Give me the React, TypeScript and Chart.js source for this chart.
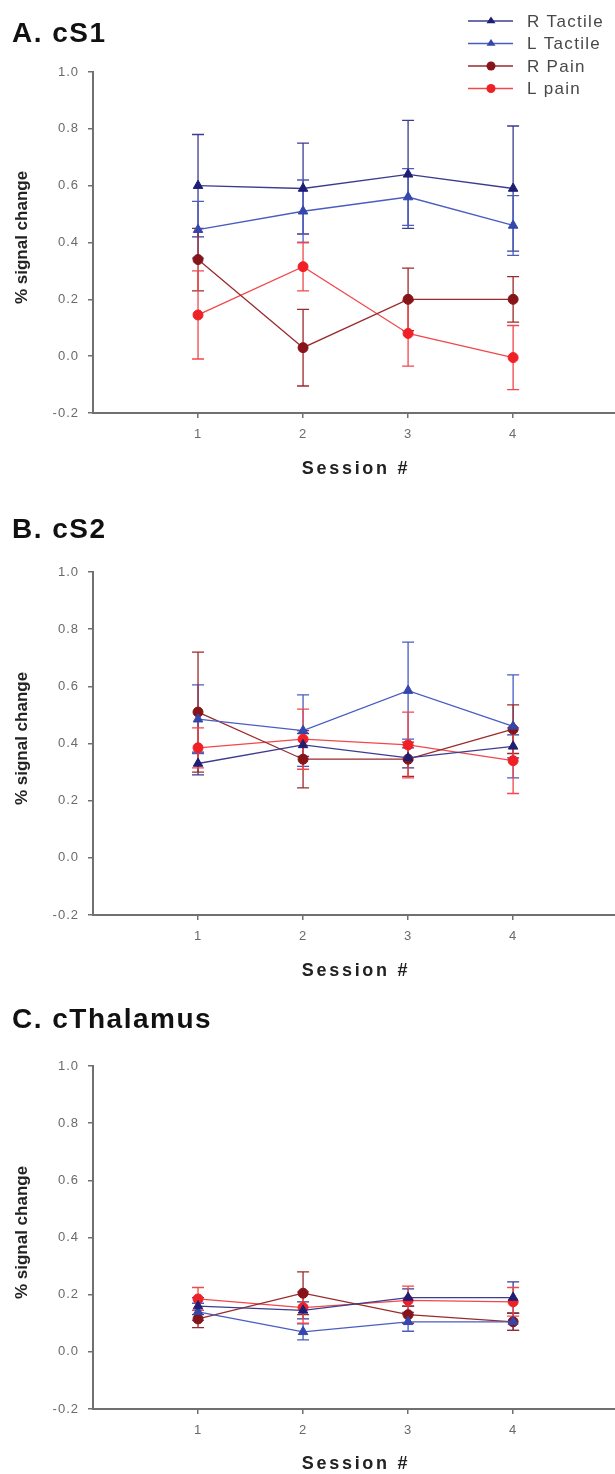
import React, { useEffect, useRef } from "react";
import { Chart, registerables } from "chart.js";

Chart.register(...registerables);

// ---------- data ----------
const sessions = [1, 2, 3, 4];
const xTickValues = [1, 2, 3, 4];
const yMin = -0.2;
const yMax = 1.0;
const yStep = 0.2;

const seriesLabels = ["R Tactile", "L Tactile", "R Pain", "L pain"];
const seriesMarkers = ["triangle", "triangle", "circle", "circle"];
const panelTitles = ["A. cS1", "B. cS2", "C. cThalamus"];
const xAxisTitle = "Session #";
const yAxisTitle = "% signal change";

// A. cS1
const cS1RTactile = [0.6, 0.59, 0.64, 0.59];
const cS1RTactileErr = [0.18, 0.16, 0.19, 0.22];
const cS1LTactile = [0.445, 0.51, 0.56, 0.46];
const cS1LTactileErr = [0.1, 0.11, 0.1, 0.105];
const cS1RPain = [0.34, 0.03, 0.2, 0.2];
const cS1RPainErr = [0.11, 0.135, 0.11, 0.08];
const cS1LPain = [0.145, 0.315, 0.08, -0.005];
const cS1LPainErr = [0.155, 0.085, 0.115, 0.113];

// B. cS2
const cS2RTactile = [0.33, 0.395, 0.35, 0.39];
const cS2RTactileErr = [0.04, 0.04, 0.035, 0.04];
const cS2LTactile = [0.485, 0.445, 0.585, 0.46];
const cS2LTactileErr = [0.12, 0.125, 0.17, 0.18];
const cS2RPain = [0.51, 0.345, 0.345, 0.45];
const cS2RPainErr = [0.21, 0.1, 0.06, 0.085];
const cS2LPain = [0.385, 0.415, 0.395, 0.34];
const cS2LPainErr = [0.07, 0.105, 0.115, 0.115];

// C. cThalamus
const cThRTactile = [0.16, 0.145, 0.19, 0.19];
const cThRTactileErr = [0.03, 0.03, 0.03, 0.055];
const cThLTactile = [0.14, 0.07, 0.105, 0.105];
const cThLTactileErr = [0.03, 0.028, 0.033, 0.03];
const cThRPain = [0.115, 0.205, 0.13, 0.105];
const cThRPainErr = [0.03, 0.075, 0.03, 0.03];
const cThLPain = [0.185, 0.155, 0.18, 0.175];
const cThLPainErr = [0.04, 0.055, 0.05, 0.05];

// ---------- styles ----------
const lineColors = ["#3c3c90", "#4a5cc0", "#9a2a2c", "#f2474b"];
const markerColors = ["#1e1e74", "#3447ac", "#861418", "#ef2126"];
const axisColor = "#707070";
const tickColor = "#6a6a6a";
const FONT = "'Liberation Sans', Arial, sans-serif";

const panels = [
  {
    title: panelTitles[0],
    values: [cS1RTactile, cS1LTactile, cS1RPain, cS1LPain],
    errors: [cS1RTactileErr, cS1LTactileErr, cS1RPainErr, cS1LPainErr],
    top: 0, height: 489, padTop: 72, axisH: 76, titleBase: 42, xTitleY: 469, legend: true,
  },
  {
    title: panelTitles[1],
    values: [cS2RTactile, cS2LTactile, cS2RPain, cS2LPain],
    errors: [cS2RTactileErr, cS2LTactileErr, cS2RPainErr, cS2LPainErr],
    top: 489, height: 502, padTop: 83, axisH: 76, titleBase: 49, xTitleY: 482, legend: false,
  },
  {
    title: panelTitles[2],
    values: [cThRTactile, cThLTactile, cThRPain, cThLPain],
    errors: [cThRTactileErr, cThLTactileErr, cThRPainErr, cThLPainErr],
    top: 991, height: 483, padTop: 75, axisH: 65, titleBase: 37, xTitleY: 473, legend: false,
  },
];

function drawMarker(ctx: CanvasRenderingContext2D, kind: string, x: number, y: number, r: number) {
  ctx.beginPath();
  if (kind === "triangle") {
    const h = r * 1.5;
    ctx.moveTo(x, y - h * 0.66);
    ctx.lineTo(x + r, y + h * 0.34);
    ctx.lineTo(x - r, y + h * 0.34);
    ctx.closePath();
  } else {
    ctx.arc(x, y, r, 0, Math.PI * 2);
  }
  ctx.fill();
}

function makePlugin(panel: any) {
  return {
    id: "decor",
    beforeDraw(chart: any) {
      (chart.ctx as any).letterSpacing = "1px";
    },
    beforeDatasetsDraw(chart: any) {
      const ctx = chart.ctx as CanvasRenderingContext2D;
      const xs = chart.scales.x;
      const ys = chart.scales.y;
      ctx.save();
      ctx.lineWidth = 1.3;
      panel.values.forEach((vals: number[], i: number) => {
        ctx.strokeStyle = lineColors[i];
        vals.forEach((v: number, j: number) => {
          const e = panel.errors[i][j];
          const x = xs.getPixelForValue(sessions[j]);
          const y1 = ys.getPixelForValue(v + e);
          const y2 = ys.getPixelForValue(v - e);
          ctx.beginPath();
          ctx.moveTo(x, y1);
          ctx.lineTo(x, y2);
          ctx.moveTo(x - 6, y1);
          ctx.lineTo(x + 6, y1);
          ctx.moveTo(x - 6, y2);
          ctx.lineTo(x + 6, y2);
          ctx.stroke();
        });
      });
      ctx.restore();
    },
    afterDraw(chart: any) {
      const ctx = chart.ctx as any;
      const area = chart.chartArea;
      ctx.save();
      // panel title
      ctx.letterSpacing = "1.5px";
      ctx.fillStyle = "#111";
      ctx.font = `bold 28px ${FONT}`;
      ctx.textAlign = "left";
      ctx.textBaseline = "alphabetic";
      ctx.fillText(panel.title, 12, panel.titleBase);

      // x axis title
      ctx.letterSpacing = "2.7px";
      ctx.fillStyle = "#222";
      ctx.font = `bold 18px ${FONT}`;
      ctx.textAlign = "center";
      ctx.textBaseline = "middle";
      ctx.fillText(xAxisTitle, (area.left + area.right) / 2 + 2, panel.xTitleY);

      // y axis title
      ctx.letterSpacing = "0px";
      ctx.font = `bold 17px ${FONT}`;
      ctx.save();
      ctx.translate(22, (area.top + area.bottom) / 2 - 5);
      ctx.rotate(-Math.PI / 2);
      ctx.fillText(yAxisTitle, 0, 0);
      ctx.restore();

      // legend
      if (panel.legend) {
        const rows = [21, 43.5, 66, 88.5];
        ctx.letterSpacing = "1.3px";
        ctx.font = `17px ${FONT}`;
        ctx.textAlign = "left";
        ctx.textBaseline = "middle";
        seriesLabels.forEach((lab, i) => {
          const y = rows[i];
          ctx.strokeStyle = lineColors[i];
          ctx.lineWidth = 1.5;
          ctx.beginPath();
          ctx.moveTo(468, y);
          ctx.lineTo(513, y);
          ctx.stroke();
          ctx.fillStyle = markerColors[i];
          drawMarker(ctx, seriesMarkers[i], 491, y, 4.5);
          ctx.fillStyle = "#484848";
          ctx.fillText(lab, 527, y + 1);
        });
      }
      ctx.restore();
    },
  };
}

function formatY(v: any) {
  const n = Number(v);
  return (Math.abs(n) < 1e-9 ? 0 : n).toFixed(1);
}

function Panel({ panel }: { panel: any }) {
  const ref = useRef<HTMLCanvasElement | null>(null);
  useEffect(() => {
    if (!ref.current) return;
    const chart = new Chart(ref.current, {
      type: "line",
      data: {
        datasets: panel.values.map((vals: number[], i: number) => ({
          label: seriesLabels[i],
          data: sessions.map((s, j) => ({ x: s, y: vals[j] })),
          borderColor: lineColors[i],
          backgroundColor: markerColors[i],
          pointBackgroundColor: markerColors[i],
          pointBorderColor: markerColors[i],
          pointStyle: seriesMarkers[i],
          pointRadius: seriesMarkers[i] === "triangle" ? 5.5 : 5,
          pointBorderWidth: 1,
          borderWidth: 1.3,
          tension: 0,
          fill: false,
        })),
      },
      options: {
        responsive: false,
        animation: false,
        layout: { autoPadding: false, padding: { top: panel.padTop, left: 12, right: 0, bottom: 0 } },
        plugins: { legend: { display: false }, tooltip: { enabled: false }, title: { display: false } },
        scales: {
          x: {
            type: "linear",
            min: 0,
            max: 4.97,
            afterBuildTicks: (s: any) => {
              s.ticks = xTickValues.map((v) => ({ value: v }));
            },
            afterFit: (s: any) => {
              s.height = panel.axisH;
              s.paddingLeft = 0;
              s.paddingRight = 0;
            },
            ticks: {
              color: tickColor,
              font: { family: FONT, size: 13 },
              padding: 9,
              maxRotation: 0,
              autoSkip: false,
            },
            grid: { drawOnChartArea: false, drawTicks: true, tickLength: 5, color: axisColor, lineWidth: 1.5 },
            border: { display: true, color: axisColor, width: 2 },
            title: { display: false },
          },
          y: {
            min: yMin,
            max: yMax,
            afterFit: (s: any) => {
              s.width = 81;
            },
            ticks: {
              stepSize: yStep,
              color: tickColor,
              font: { family: FONT, size: 13 },
              padding: 9,
              callback: (v: any) => formatY(v),
            },
            grid: { drawOnChartArea: false, drawTicks: true, tickLength: 5, color: axisColor, lineWidth: 1.5 },
            border: { display: true, color: axisColor, width: 2 },
            title: { display: false },
          },
        },
      } as any,
      plugins: [makePlugin(panel)],
    });
    return () => chart.destroy();
  }, [panel]);
  return (
    <canvas
      ref={ref}
      width={615}
      height={panel.height}
      style={{ position: "absolute", left: 0, top: panel.top, width: 615, height: panel.height }}
    />
  );
}

export default function App() {
  return (
    <div
      style={{
        position: "absolute",
        left: 0,
        top: 0,
        width: 615,
        height: 1474,
        overflow: "hidden",
        background: "#fff",
      }}
    >
      {panels.map((p, i) => (
        <Panel key={i} panel={p} />
      ))}
    </div>
  );
}
